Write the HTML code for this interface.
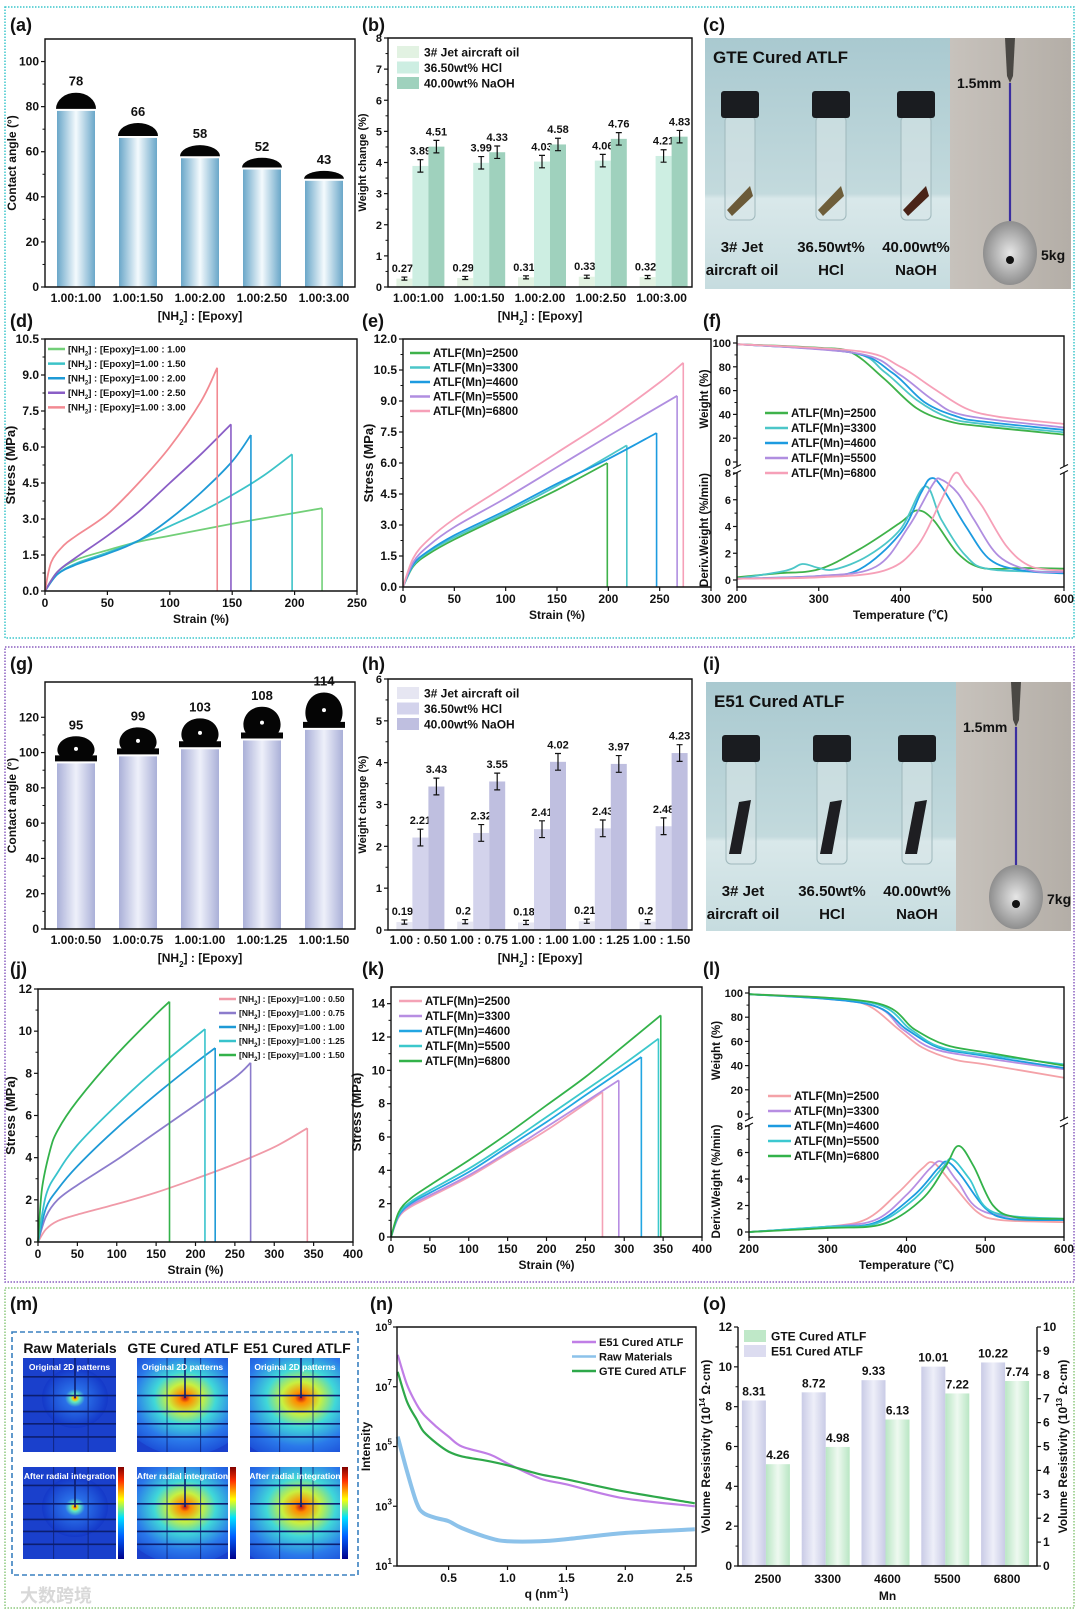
<!DOCTYPE html>
<html><head><meta charset="utf-8"><style>
html,body{margin:0;padding:0;background:#fff}
svg{display:block}
text{font-family:"Liberation Sans","Noto Sans CJK SC",sans-serif;font-weight:bold;fill:#111}
</style></head><body>
<svg id="fig" width="1080" height="1611" viewBox="0 0 1080 1611" xmlns="http://www.w3.org/2000/svg">
<defs id="defs">
<linearGradient id="gBlue" x1="0" x2="1"><stop offset="0" stop-color="#6aa7c9"/><stop offset="0.5" stop-color="#f4fafd"/><stop offset="1" stop-color="#6aa7c9"/></linearGradient>
<linearGradient id="gLav" x1="0" x2="1"><stop offset="0" stop-color="#aab0d8"/><stop offset="0.5" stop-color="#eef0fa"/><stop offset="1" stop-color="#aab0d8"/></linearGradient>
<linearGradient id="gLav2" x1="0" x2="1"><stop offset="0" stop-color="#c9cbe6"/><stop offset="0.5" stop-color="#eeeff9"/><stop offset="1" stop-color="#c9cbe6"/></linearGradient>
<linearGradient id="gGrn" x1="0" x2="1"><stop offset="0" stop-color="#b9e6c4"/><stop offset="0.5" stop-color="#eef9f0"/><stop offset="1" stop-color="#b9e6c4"/></linearGradient>
<linearGradient id="gPhoto" x1="0" y1="0" x2="0" y2="1"><stop offset="0" stop-color="#a9c9d0"/><stop offset="0.62" stop-color="#c3dadd"/><stop offset="0.64" stop-color="#d9e8ea"/><stop offset="1" stop-color="#c6dcdf"/></linearGradient>
<linearGradient id="gGrey" x1="0" x2="1"><stop offset="0" stop-color="#c7c2bc"/><stop offset="1" stop-color="#b4aea7"/></linearGradient>
<radialGradient id="gCyl"><stop offset="0" stop-color="#e6e6e6"/><stop offset="1" stop-color="#8e8e8e"/></radialGradient>
<radialGradient id="hmS"><stop offset="0" stop-color="#c0101a"/><stop offset="0.06" stop-color="#ffd000"/><stop offset="0.14" stop-color="#60e8c0"/><stop offset="0.3" stop-color="#2a70e8"/><stop offset="1" stop-color="#1438c8"/></radialGradient>
<radialGradient id="hmL"><stop offset="0" stop-color="#c0101a"/><stop offset="0.08" stop-color="#ff8a00"/><stop offset="0.25" stop-color="#c8f040"/><stop offset="0.45" stop-color="#40d8d8"/><stop offset="0.75" stop-color="#2a78ea"/><stop offset="1" stop-color="#1c50d8"/></radialGradient>
<linearGradient id="cbar" x1="0" y1="1" x2="0" y2="0"><stop offset="0" stop-color="#00008a"/><stop offset="0.25" stop-color="#0060ff"/><stop offset="0.45" stop-color="#00e0ff"/><stop offset="0.65" stop-color="#ffff00"/><stop offset="0.85" stop-color="#ff3000"/><stop offset="1" stop-color="#800000"/></linearGradient>
</defs>
</svg>
<script>
// ---------- DATA ----------
const aCats=["1.00:1.00","1.00:1.50","1.00:2.00","1.00:2.50","1.00:3.00"];
const aAngle=[78,66,58,52,43];
const aBarTop=[79,67,58,53,48];
const bCats=["1.00:1.00","1.00:1.50","1.00:2.00","1.00:2.50","1.00:3.00"];
const bOil=[0.27,0.29,0.31,0.33,0.32];
const bHCl=[3.89,3.99,4.03,4.06,4.21];
const bNaOH=[4.51,4.33,4.58,4.76,4.83];
const gCats=["1.00:0.50","1.00:0.75","1.00:1.00","1.00:1.25","1.00:1.50"];
const gAngle=[95,99,103,108,114];
const hCats=["1.00 : 0.50","1.00 : 0.75","1.00 : 1.00","1.00 : 1.25","1.00 : 1.50"];
const hOil=[0.19,0.2,0.18,0.21,0.2];
const hHCl=[2.21,2.32,2.41,2.43,2.48];
const hNaOH=[3.43,3.55,4.02,3.97,4.23];
const dC1=[[0,0],[10,0.8],[25,1.3],[50,1.7],[75,2.05],[100,2.3],[150,2.8],[200,3.25],[222,3.45]];
const dC2=[[0,0],[10,0.7],[25,1.15],[50,1.6],[75,2.1],[100,2.7],[125,3.3],[150,4.0],[175,4.8],[198,5.7]];
const dC3=[[0,0],[10,0.7],[25,1.1],[50,1.55],[75,2.1],[100,3.0],[125,4.1],[150,5.4],[165,6.5]];
const dC4=[[0,0],[10,0.8],[25,1.4],[50,2.3],[75,3.3],[100,4.5],[125,5.7],[149,6.95]];
const dC5=[[0,0],[5,1.2],[15,1.9],[25,2.3],[50,3.2],[75,4.5],[100,6.0],[125,7.9],[138,9.3]];
const eC1=[[0,0],[10,1.0],[25,1.6],[50,2.3],[100,3.5],[150,4.7],[199,6.0]];
const eC2=[[0,0],[10,1.05],[25,1.7],[50,2.4],[100,3.6],[150,4.9],[218,6.85]];
const eC3=[[0,0],[10,1.1],[25,1.75],[50,2.5],[100,3.7],[150,5.0],[200,6.2],[247,7.45]];
const eC4=[[0,0],[10,1.2],[25,2.0],[50,2.9],[100,4.3],[150,5.8],[200,7.3],[267,9.25]];
const eC5=[[0,0],[10,1.4],[25,2.3],[50,3.3],[100,4.9],[150,6.5],[200,8.1],[250,9.9],[273,10.85]];
const fW1=[[200,99],[300,96],[340,92],[380,70],[420,45],[460,34],[500,30],[600,23]];
const fW2=[[200,99],[340,92],[380,76],[420,52],[460,37],[500,32],[600,25]];
const fW3=[[200,99],[340,92],[390,75],[430,50],[470,38],[500,34],[600,27]];
const fW4=[[200,99],[350,91],[400,73],[440,52],[480,39],[600,29]];
const fW5=[[200,99],[350,93],[400,80],[440,62],[480,45],[520,38],[600,32]];
const fD1=[[200,0.2],[250,0.5],[300,0.8],[350,2.3],[400,4.3],[420,5.2],[440,4.5],[470,2],[500,0.9],[550,0.9],[600,0.85]];
const fD2=[[200,0.1],[260,0.7],[280,1.2],[300,0.9],[320,0.8],[360,1.8],[400,3.8],[430,7.0],[450,4.5],[480,1.8],[510,0.8],[600,0.6]];
const fD3=[[200,0.1],[300,0.3],[350,0.8],[400,3.5],[425,6.5],[437,7.6],[450,7.0],[480,4.0],[510,1.5],[550,0.7],[600,0.5]];
const fD4=[[200,0.1],[300,0.3],[370,1.0],[410,4],[440,7.2],[450,7.5],[470,6.5],[490,4.5],[520,1.8],[560,0.7],[600,0.6]];
const fD5=[[200,0.1],[300,0.2],[380,0.7],[420,2.5],[450,6],[467,8.0],[480,7.1],[500,5.5],[530,2.5],[560,1.0],[600,0.7]];
const jC1=[[0,0],[10,0.6],[25,1.0],[50,1.3],[100,1.8],[150,2.35],[200,3.0],[250,3.7],[300,4.5],[342,5.4]];
const jC2=[[0,0],[10,1.2],[25,2.0],[50,2.7],[100,3.9],[150,5.2],[200,6.5],[250,7.8],[270,8.5]];
const jC3=[[0,0],[10,1.6],[25,2.5],[50,3.6],[100,5.4],[150,7.0],[200,8.5],[225,9.2]];
const jC4=[[0,0],[10,2.2],[25,3.3],[50,4.6],[100,6.5],[150,8.2],[212,10.1]];
const jC5=[[0,0],[5,2.5],[15,4.3],[25,5.3],[50,6.7],[100,8.9],[150,10.8],[167,11.4]];
const kC1=[[0,0],[10,1.2],[25,1.8],[50,2.4],[100,3.6],[150,5.0],[200,6.4],[272,8.7]];
const kC2=[[0,0],[10,1.25],[25,1.9],[50,2.5],[100,3.7],[150,5.1],[200,6.6],[293,9.4]];
const kC3=[[0,0],[10,1.3],[25,2.0],[50,2.65],[100,3.9],[150,5.4],[200,6.9],[250,8.5],[322,10.8]];
const kC4=[[0,0],[10,1.4],[25,2.1],[50,2.8],[100,4.1],[150,5.6],[200,7.2],[250,8.8],[300,10.4],[344,11.9]];
const kC5=[[0,0],[10,1.5],[25,2.3],[50,3.1],[100,4.6],[150,6.2],[200,7.9],[250,9.6],[300,11.5],[347,13.3]];
const lW1=[[200,99],[300,96],[350,90],[390,70],[420,55],[460,45],[500,41],[600,30]];
const lW2=[[200,99],[350,91],[395,70],[430,55],[480,48],[600,37]];
const lW3=[[200,99],[350,91],[400,70],[440,55],[490,49],[600,38]];
const lW4=[[200,99],[355,92],[405,70],[440,56],[490,50],[600,41]];
const lW5=[[200,99],[360,92],[410,70],[450,57],[500,51],[600,40]];
const lD1=[[200,0],[300,0.4],[350,1.0],[390,3.0],[420,4.8],[435,5.2],[460,3.5],[490,1.5],[520,0.9],[600,0.75]];
const lD2=[[200,0],[300,0.4],[360,0.9],[400,2.8],[430,4.8],[445,5.3],[465,3.8],[500,1.5],[600,0.9]];
const lD3=[[200,0],[300,0.4],[360,0.7],[410,2.8],[440,4.8],[452,5.3],[470,4.2],[500,1.8],[530,1.0],[600,0.9]];
const lD4=[[200,0],[300,0.4],[360,0.6],[410,2.5],[445,4.8],[458,5.5],[480,4.0],[510,1.5],[600,1.0]];
const lD5=[[200,0],[300,0.3],[370,0.6],[420,2.5],[450,5],[466,6.5],[485,5.0],[510,2.0],[540,1.1],[600,1.0]];
const nQ=[0.068,0.147,0.23,0.288,0.4,0.5,0.613,0.853,1.0,1.277,1.503,1.983,2.59];
const nE51=[8.07,7.07,6.4,6.07,5.65,5.33,5.0,4.73,4.43,3.93,3.73,3.27,3.0];
const nGTE=[7.5,6.5,5.9,5.5,5.1,4.83,4.67,4.5,4.37,4.07,3.9,3.5,3.1];
const nRaw=[5.33,4.17,3.1,2.77,2.6,2.5,2.27,1.93,1.83,1.83,1.9,2.1,2.23];
const oCats=["2500","3300","4600","5500","6800"];
const oE51=[8.31,8.72,9.33,10.01,10.22];
const oGTE=[4.26,4.98,6.13,7.22,7.74];

// ---------- HELPERS ----------
const NS='http://www.w3.org/2000/svg';
const svg=document.getElementById('fig');
const defs=document.getElementById('defs');
function mk(tag,p,attrs){const e=document.createElementNS(NS,tag);for(const k in attrs)e.setAttribute(k,attrs[k]);(p||svg).appendChild(e);return e;}
function T(p,x,y,s,size,anchor,extra){const e=mk('text',p,Object.assign({x:x,y:y,'font-size':size||12,'text-anchor':anchor||'middle'},extra||{}));e.innerHTML=s;return e;}
function lin(d0,d1,r0,r1){return v=>r0+(v-d0)/(d1-d0)*(r1-r0);}
function smooth(pts){let d='M'+pts[0][0].toFixed(1)+','+pts[0][1].toFixed(1);for(let i=0;i<pts.length-1;i++){const p0=pts[i-1]||pts[i],p1=pts[i],p2=pts[i+1],p3=pts[i+2]||p2;const c1x=p1[0]+(p2[0]-p0[0])/6,c1y=p1[1]+(p2[1]-p0[1])/6,c2x=p2[0]-(p3[0]-p1[0])/6,c2y=p2[1]-(p3[1]-p1[1])/6;d+=`C${c1x.toFixed(1)},${c1y.toFixed(1)} ${c2x.toFixed(1)},${c2y.toFixed(1)} ${p2[0].toFixed(1)},${p2[1].toFixed(1)}`;}return d;}
function group(name){const g=mk('g',svg,{});return g;}
function frame(g,x0,y0,x1,y1,noTop){
  const r=mk('path',g,{d:noTop?`M${x0},${y0}V${y1}H${x1}V${y0}`:`M${x0},${y0}V${y1}H${x1}V${y0}Z`,fill:'none',stroke:'#111','stroke-width':1.4});
  
  
}
function yTicks(g,x,sy,vals,fmt,side,minor,fs){
  const dir=side==='right'?1:-1;
  vals.forEach(v=>{
    const y=sy(v);
    const t=mk('line',g,{x1:x,x2:x+dir*4,y1:y,y2:y,stroke:'#111','stroke-width':1.2});
    
    
    const l=T(g,x+dir*6,y+4,fmt(v),fs||12,side==='right'?'start':'end');
    
    
  });
  if(minor){for(let i=0;i<vals.length-1;i++){const y=sy((vals[i]+vals[i+1])/2);const m=mk('line',g,{x1:x,x2:x+dir*2.5,y1:y,y2:y,stroke:'#111','stroke-width':1});}}
}
function xTicks(g,y,sx,vals,fmt,labelY){
  vals.forEach(v=>{
    const x=sx(v);
    const t=mk('line',g,{x1:x,x2:x,y1:y,y2:y+4,stroke:'#111','stroke-width':1.2});
    
    
    const l=T(g,x,labelY,fmt(v),12,'middle');
    
    
  });
}
function yTitle(g,x,y,s,size){const t=T(g,x,y,s,size||12,'middle',{transform:`rotate(-90 ${x} ${y})`});return t;}
function xTitle(g,x,y,s){const t=T(g,x,y,s,12,'middle');return t;}
function plabel(x,y,s){const t=T(svg,x,y,s,18,'start',{'font-weight':'normal'});}
function steps(a,b,s){const r=[];for(let v=a;v<=b+1e-9;v+=s)r.push(+v.toFixed(3));return r;}
function curves(g,list,colors,names,sx,sy,drop,w){
  list.forEach((c,i)=>{
    const pts=c.map(p=>[sx(p[0]),sy(p[1])]);
    const p=mk('path',g,{d:smooth(pts),fill:'none',stroke:colors[i],'stroke-width':w||1.8});
    
    
    if(drop){const last=c[c.length-1];const l=mk('line',g,{x1:sx(last[0]),x2:sx(last[0]),y1:sy(last[1]),y2:sy(0),stroke:colors[i],'stroke-width':1.6});
      
      }
  });
}
function legendLines(g,x,y0,dy,colors,labels,size,lw){
  labels.forEach((s,i)=>{
    const y=y0+i*dy;
    const l=mk('line',g,{x1:x,x2:x+lw,y1:y,y2:y,stroke:colors[i],'stroke-width':2.5});
    
    
    const t=T(g,x+lw+3,y+size*0.35,s,size,'start');
    
    
  });
}
function legendBoxes(g,x,y0,dy,fills,labels){
  labels.forEach((s,i)=>{
    const y=y0+i*dy;
    const r=mk('rect',g,{x:x,y:y-6,width:22,height:12,fill:fills[i]});
    
    
    const t=T(g,x+27,y+4.5,s,12,'start');
    
    
  });
}
const NH='[NH<tspan baseline-shift="sub" font-size="8">2</tspan>] : [Epoxy]';

// ---------- BORDERS ----------
(function(){
  const b1=mk('rect',svg,{x:5,y:7,width:1069,height:631,fill:'none',stroke:'#3cc6cc','stroke-width':1.5,'stroke-dasharray':'1.5 1.5'});
  
  
  const b2=mk('rect',svg,{x:5,y:647,width:1069,height:635,fill:'none',stroke:'#8a5fc0','stroke-width':1.5,'stroke-dasharray':'1.5 1.5'});
  
  
  const b3=mk('rect',svg,{x:5,y:1288,width:1069,height:320,fill:'none',stroke:'#8cc87c','stroke-width':1.5,'stroke-dasharray':'1.5 1.5'});
  
  
})();

// ---------- CONTACT ANGLE PANELS ----------
function anglePanel(name,x0,y0,x1,y1,ymax,ystep,cats,vals,tops,fill,big,tickY,titleY){
  const g=group(name);
  const sy=lin(0,ymax,y1,y0);
  const n=cats.length, bw=(x1-x0)/n, w=38;
  cats.forEach((c,i)=>{
    const cx=x0+bw*(i+0.5);
    const top=sy(tops[i]);
    const r=mk('rect',g,{x:cx-w/2,y:top+2,width:w,height:y1-top-2,fill:fill});
    
    
    const rad=w/2+1;
    const th=vals[i]*Math.PI/180;
    let h,pathD;
    if(!big){h=rad*Math.tan(th/2);pathD=`M${cx-rad},${top}A${rad},${h} 0 0 1 ${cx+rad},${top}Z`;}
    else{h=rad*Math.tan(th/2)*1.15;const bw2=rad*0.82;pathD=`M${cx-rad-1},${top}V${top-6}H${cx-bw2}C${cx-rad*1.1},${top-h*0.45} ${cx-rad*0.85},${top-h} ${cx},${top-h}C${cx+rad*0.85},${top-h} ${cx+rad*1.1},${top-h*0.45} ${cx+bw2},${top-6}H${cx+rad+1}V${top}Z`;}
    const d=mk('path',g,{d:pathD,fill:'#050505'});
    
    
    if(big){const dot=mk('circle',g,{cx:cx,cy:top-h*0.5,r:2,fill:'#fff'});}
    const l=T(g,cx,top-h-7,String(vals[i]),13,'middle');
    
    
    const xl=T(g,cx,tickY,c,12,'middle');
    
    
  });
  frame(g,x0,y0,x1,y1);
  yTicks(g,x0,sy,steps(0,ymax-1e-6,ystep),v=>String(v),'left',true);
  yTitle(g,16,(y0+y1)/2,'Contact angle (°)');
  xTitle(g,(x0+x1)/2,titleY,NH);
}
anglePanel('panel-a-contact-angle',45,39,355,287,110,20,aCats,aAngle,aBarTop,'url(#gBlue)',false,302,320);
anglePanel('panel-g-contact-angle',45,682,355,929,140,20,gCats,gAngle,gAngle,'url(#gLav)',true,944,962);

// ---------- WEIGHT CHANGE PANELS ----------
function weightPanel(name,x0,y0,x1,y1,ymax,cats,oil,hcl,naoh,fills,tickY,titleY){
  const g=group(name);
  const sy=lin(0,ymax,y1,y0);
  const bw=(x1-x0)/cats.length, w=16;
  const sets=[oil,hcl,naoh], nm=['oil','hcl','naoh'];
  cats.forEach((c,i)=>{
    const cx=x0+bw*(i+0.5);
    sets.forEach((s,k)=>{
      const bx=cx+(k-1.5)*w+2;
      const r=mk('rect',g,{x:bx,y:sy(s[i]),width:w,height:y1-sy(s[i]),fill:fills[k]});
      
      
      const e=k===0?0.05:0.2;
      const mx=bx+w/2;
      const eb=mk('path',g,{d:`M${mx},${sy(s[i]+e)}V${sy(Math.max(0,s[i]-e))}M${mx-3},${sy(s[i]+e)}H${mx+3}M${mx-3},${sy(Math.max(0,s[i]-e))}H${mx+3}`,stroke:'#111','stroke-width':1.2,fill:'none'});
      
      
      const l=T(g,mx-(k===0?2:0),sy(s[i]+e)-5,String(s[i]),11,'middle');
      
      
    });
    const xl=T(g,cx,tickY,c,12,'middle');
    
    
  });
  frame(g,x0,y0,x1,y1);
  yTicks(g,x0,sy,steps(0,ymax,1),v=>String(v),'left',true,11);
  yTitle(g,x0-22,(y0+y1)/2,'Weight change (%)',11);
  xTitle(g,(x0+x1)/2,titleY,NH);
  legendBoxes(g,x0+9,y0+14,15.5,fills,['3# Jet aircraft oil','36.50wt% HCl','40.00wt% NaOH']);
}
weightPanel('panel-b-weight-change',388,38,692,287,8,bCats,bOil,bHCl,bNaOH,['#e2f2e2','#cdeee2','#9fd1bd'],302,320);
weightPanel('panel-h-weight-change',388,679,692,930,6,hCats,hOil,hHCl,hNaOH,['#e6e6f2','#d3d3ec','#bfbfe0'],944,962);

// ---------- PHOTO PANELS ----------
function photoPanel(name,x0,y0,x1,y1,greyX,title,sampleColor,kg,tall){
  const g=group(name);
  const bg=mk('rect',g,{x:x0,y:y0,width:greyX-x0,height:y1-y0,fill:'url(#gPhoto)'});
  
  
  const t=T(g,x0+8,y0+25,title,17,'start');
  
  
  const cxs=[x0+35,x0+126,x0+211];
  const labs=[['3# Jet','aircraft oil'],['36.50wt%','HCl'],['40.00wt%','NaOH']];
  cxs.forEach((cx,i)=>{
    const v=mk('rect',g,{x:cx-15,y:y0+78,width:30,height:104,rx:5,fill:'#d8e6e8','fill-opacity':0.55,stroke:'#9fb8bc','stroke-width':1});
    
    
    const cap=mk('rect',g,{x:cx-19,y:y0+53,width:38,height:27,rx:3,fill:'#1a1c20'});
    
    
    const sd=tall?`M${cx-12},${y0+172}L${cx-2},${y0+120}L${cx+10},${y0+118}L${cx},${y0+172}Z`:`M${cx-13},${y0+172}L${cx+10},${y0+148}L${cx+13},${y0+158}L${cx-8},${y0+178}Z`;
    const s=mk('path',g,{d:sd,fill:sampleColor[i]});
    
    
    labs[i].forEach((ln,k)=>{const tl=T(g,cx+(i===0?2:0),y0+214+k*23,ln,15,'middle');});
  });
  const gr=mk('rect',g,{x:greyX,y:y0,width:x1-greyX,height:y1-y0,fill:'url(#gGrey)'});
  
  
  const sx=greyX+60;
  const hook=mk('path',g,{d:`M${sx-5},${y0}L${sx+5},${y0}L${sx+3},${y0+38}L${sx},${y0+45}L${sx-3},${y0+38}Z`,fill:'#4a4844'});
  
  
  const st=mk('line',g,{x1:sx,x2:sx,y1:y0+45,y2:y0+222,stroke:'#3b2fa0','stroke-width':2.2});
  
  
  const cy=mk('ellipse',g,{cx:sx,cy:y0+215,rx:27,ry:32,fill:'url(#gCyl)'});
  
  
  const dot=mk('circle',g,{cx:sx,cy:y0+222,r:4,fill:'#111'});
  
  
  const m=T(g,greyX+7,y0+50,'1.5mm',14,'start');
  
  
  const k=T(g,sx+31,y0+222,kg,14,'start');
  
  
}
photoPanel('panel-c-photo',705,38,1071,289,950,'GTE Cured ATLF',['#6b5a38','#6e5e3a','#4a2418'],'5kg',false);
photoPanel('panel-i-photo',706,682,1071,931,956,'E51 Cured ATLF',['#1e1e22','#1e1e22','#1e1e22'],'7kg',true);

// ---------- STRESS-STRAIN PANELS ----------
function ssPanel(name,x0,y0,x1,y1,xmax,xstep,ymax,ystep,yfmt,list,colors,names,labels,leg,legSize,legLw){
  const g=group(name);
  const sx=lin(0,xmax,x0,x1), sy=lin(0,ymax,y1,y0);
  curves(g,list,colors,names,sx,sy,true,1.8);
  frame(g,x0,y0,x1,y1);
  yTicks(g,x0,sy,steps(0,ymax,ystep),yfmt,'left',true);
  xTicks(g,y1,sx,steps(0,xmax,xstep),v=>String(v),y1+16);
  yTitle(g,Math.max(x0-30,15),(y0+y1)/2,'Stress (MPa)',13);
  xTitle(g,(x0+x1)/2,y1+32,'Strain (%)');
  legendLines(g,leg[0],leg[1],leg[2],colors,labels,legSize,legLw);
}
const nhLab=s=>'[NH<tspan baseline-shift="sub" font-size="6">2</tspan>] : [Epoxy]=1.00 : '+s;
const mnLab=['ATLF(Mn)=2500','ATLF(Mn)=3300','ATLF(Mn)=4600','ATLF(Mn)=5500','ATLF(Mn)=6800'];
ssPanel('panel-d-stress-strain',45,339,357,591,250,50,10.5,1.5,v=>v.toFixed(1),[dC1,dC2,dC3,dC4,dC5],['#72cf78','#3cc3c8','#1e9ad6','#8a5ec6','#f28a92'],['1.00','1.50','2.00','2.50','3.00'],['1.00','1.50','2.00','2.50','3.00'].map(nhLab),[48,349,14.6],9.5,17);
ssPanel('panel-e-stress-strain',403,339,711,587,300,50,12,1.5,v=>v.toFixed(1),[eC1,eC2,eC3,eC4,eC5],['#3fb24a','#4cc6c8','#1d9be0','#b08ee0','#f6a0b8'],mnLab,mnLab,[410,353,14.5],11.5,20);
ssPanel('panel-j-stress-strain',38,989,353,1242,400,50,12,2,v=>String(v),[jC1,jC2,jC3,jC4,jC5],['#f09aa8','#8c7ccc','#1e9ad6','#38c3cc','#33b24a'],['0.50','0.75','1.00','1.25','1.50'],['0.50','0.75','1.00','1.25','1.50'].map(nhLab),[219,999,14],8.5,17);
ssPanel('panel-k-stress-strain',391,987,702,1237,400,50,15,2,v=>String(v),[kC1,kC2,kC3,kC4,kC5],['#f4a2b6','#b78ee2','#22a6e2','#3cc8cc','#33b24a'],mnLab,mnLab,[399,1001,15],11.5,23);

// ---------- TGA PANELS ----------
function tgaPanel(name,x0,y0,x1,y1,w100,w0,d8,d0,wList,dList,colors,leg){
  const g=group(name);
  const sx=lin(200,600,x0,x1), syW=lin(0,100,w0,w100), syD=lin(0,8,d0,d8);
  curves(g,wList,colors,mnLab.map(s=>'weight-'+s),sx,syW,false,1.8);
  curves(g,dList,colors,mnLab.map(s=>'deriv-'+s),sx,syD,false,1.8);
  frame(g,x0,y0,x1,y1);
  const brk=(w0+d8)/2+2;
  const gap=mk('rect',g,{x:x0-3,y:brk-3,width:6,height:6,fill:'#fff'});
  
  
  const gap2=mk('rect',g,{x:x1-3,y:brk-3,width:6,height:6,fill:'#fff'});
  
  
  [x0,x1].forEach(x=>{const s=mk('path',g,{d:`M${x-4},${brk-1}L${x+4},${brk-5}M${x-4},${brk+5}L${x+4},${brk+1}`,stroke:'#111','stroke-width':1.2});});
  yTicks(g,x0,syW,[0,20,40,60,80,100],v=>String(v),'left',true,11);
  yTicks(g,x0,syD,[0,2,4,6,8],v=>String(v),'left',true,11);
  xTicks(g,y1,sx,[200,300,400,500,600],v=>String(v),y1+16);
  yTitle(g,x0-29,(y0+w0)/2,'Weight (%)',11.5);
  yTitle(g,x0-29,(d8+y1)/2,'Deriv.Weight (%/min)',11.5);
  xTitle(g,(x0+x1)/2,y1+32,'Temperature (℃)');
  legendLines(g,leg[0],leg[1],15,colors,mnLab,11.5,23);
}
tgaPanel('panel-f-tga',737,336,1064,587,343,462,473,580,[fW1,fW2,fW3,fW4,fW5],[fD1,fD2,fD3,fD4,fD5],['#3fb24a','#4cc6c8','#1d9be0','#b08ee0','#f6a0b8'],[765,413]);
tgaPanel('panel-l-tga',749,987,1064,1237,993,1114,1126,1232,[lW1,lW2,lW3,lW4,lW5],[lD1,lD2,lD3,lD4,lD5],['#f4a2a8','#b78ee2','#1d9be0','#3cc8d0','#33b24a'],[768,1096]);

// ---------- PANEL M (SAXS 2D) ----------
(function(){
  const g=group('panel-m-saxs-patterns');
  const box=mk('rect',g,{x:12,y:1332,width:346,height:243,fill:'none',stroke:'#3a80c0','stroke-width':1.6,'stroke-dasharray':'5 3'});
  
  
  const heads=[['Raw Materials',70],['GTE Cured ATLF',183],['E51 Cured ATLF',297]];
  heads.forEach(h=>{const t=T(g,h[1],1353,h[0],14,'middle');});
  const cols=[[23,116,75,'hmS',0.9],[137,228,185,'hmL',1.2],[250,340,301,'hmL',1.35]];
  const rows=[[1358,1452,1398,'Original 2D patterns'],[1467,1559,1507,'After radial integration']];
  let id=0;
  rows.forEach((r,ri)=>cols.forEach((c,ci)=>{
    const w=c[1]-c[0],h=r[1]-r[0];
    const cp=mk('clipPath',defs,{id:'clipM'+id});
    mk('rect',cp,{x:c[0],y:r[0],width:w,height:h});
    const ig=mk('g',g,{'clip-path':`url(#clipM${id})`});
    id++;
    
    
    const bg=mk('rect',ig,{x:c[0],y:r[0],width:w,height:h,fill:'#1a40cc'});
    
    
    const rr=c[3]==='hmS'?30:60*c[4];
    const el=mk('ellipse',ig,{cx:c[2],cy:r[2],rx:c[3]==='hmS'?rr*1.1:rr*0.95,ry:rr*(c[3]==='hmS'?1:0.8),fill:`url(#${c[3]})`});
    
    
    [0.2,0.4,0.57,0.7,0.84].forEach(f=>{const l=mk('line',ig,{x1:c[0],x2:c[1],y1:r[0]+h*f,y2:r[0]+h*f,stroke:'#0c1e70','stroke-width':1.6});});
    [0.33,0.7].forEach(f=>{const l=mk('line',ig,{x1:c[0]+w*f,x2:c[0]+w*f,y1:r[0],y2:r[1],stroke:'#0c1e70','stroke-width':0.8});});
    const bs=mk('line',ig,{x1:c[2],x2:c[2],y1:r[0],y2:r[2],stroke:'#0c1e70','stroke-width':1.6});
    
    
    const t=T(ig,(c[0]+c[1])/2,r[0]+12,r[3],8.5,'middle',{style:'fill:#fff'});
    
    
    if(ri===1){const cb=mk('rect',g,{x:c[1]+2,y:r[0],width:6,height:h,fill:'url(#cbar)'});}
  }));
  const wm=T(svg,20,1602,'大数跨境',18,'start',{style:'fill:#d8d8d8','font-family':'"Noto Sans CJK SC",sans-serif'});
  
  
})();

// ---------- PANEL N (SAXS 1D) ----------
(function(){
  const g=group('panel-n-saxs-curves');
  const x0=397,x1=696,y0=1327,y1=1566;
  const sx=lin(0.062,2.6,x0,x1), sy=lin(1,9,y1,y0);
  const series=[[nRaw,'#8cc2ea','raw-materials'],[nE51,'#c07ee6','e51-cured'],[nGTE,'#2ea84a','gte-cured']];
  series.forEach(s=>{
    const pts=nQ.map((q,i)=>[sx(q),sy(s[0][i])]);
    const p=mk('path',g,{d:smooth(pts),fill:'none',stroke:s[1],'stroke-width':s[2]==='raw-materials'?4:2.2});
    
    
  });
  frame(g,x0,y0,x1,y1);
  [1,3,5,7,9].forEach(e=>{const y=sy(e);const t=mk('line',g,{x1:x0,x2:x0-4,y1:y,y2:y,stroke:'#111','stroke-width':1.2});
    const l=T(g,x0-5,y+4,'10<tspan dy="-6" font-size="8">'+e+'</tspan>',11,'end');});
  xTicks(g,y1,sx,[0.5,1.0,1.5,2.0,2.5],v=>v.toFixed(1),y1+16);
  yTitle(g,x0-27,(y0+y1)/2,'Intensity',12);
  xTitle(g,(x0+x1)/2,y1+32,'q (nm<tspan dy="-5" font-size="8">-1</tspan><tspan dy="5">)</tspan>');
  legendLines(g,572,1342,14.5,['#c07ee6','#8cc2ea','#2ea84a'],['E51 Cured ATLF','Raw Materials','GTE Cured ATLF'],11,24);
})();

// ---------- PANEL O (RESISTIVITY) ----------
(function(){
  const g=group('panel-o-resistivity');
  const x0=738,x1=1037,y0=1327,y1=1566;
  const syL=lin(0,12,y1,y0), syR=lin(0,10,y1,y0);
  const bw=(x1-x0)/oCats.length, w=24;
  oCats.forEach((c,i)=>{
    const cx=x0+bw*(i+0.5);
    const r1=mk('rect',g,{x:cx-w-2,y:syL(oE51[i]),width:w,height:y1-syL(oE51[i]),fill:'url(#gLav2)'});
    
    
    const r2=mk('rect',g,{x:cx-2,y:syR(oGTE[i]),width:w,height:y1-syR(oGTE[i]),fill:'url(#gGrn)'});
    
    
    const l1=T(g,cx-w/2-2,syL(oE51[i])-5,oE51[i].toFixed(2),12,'middle');
    
    
    const l2=T(g,cx+w/2-2,syR(oGTE[i])-5,oGTE[i].toFixed(2),12,'middle');
    
    
    const xl=T(g,cx,y1+17,c,12,'middle');
    
    
  });
  frame(g,x0,y0,x1,y1,true);
  yTicks(g,x0,syL,[0,2,4,6,8,10,12],v=>String(v),'left',true);
  yTicks(g,x1,syR,[0,1,2,3,4,5,6,7,8,9,10],v=>String(v),'right',false);
  yTitle(g,x0-28,(y0+y1)/2,'Volume Resistivity (10<tspan dy="-5" font-size="8">14</tspan><tspan dy="5"> Ω·cm)</tspan>',12);
  yTitle(g,x1+30,(y0+y1)/2,'Volume Resistivity (10<tspan dy="-5" font-size="8">13</tspan><tspan dy="5"> Ω·cm)</tspan>',12);
  xTitle(g,(x0+x1)/2,y1+34,'Mn');
  legendBoxes(g,744,1336,15,['#bfe8c8','#dcdcf0'],['GTE Cured ATLF','E51 Cured ATLF']);
})();

// ---------- PANEL LABELS ----------
plabel(10,31,'(a)');plabel(362,31,'(b)');plabel(703,31,'(c)');
plabel(10,327,'(d)');plabel(362,327,'(e)');plabel(703,327,'(f)');
plabel(10,670,'(g)');plabel(362,670,'(h)');plabel(703,670,'(i)');
plabel(10,975,'(j)');plabel(362,975,'(k)');plabel(703,975,'(l)');
plabel(10,1310,'(m)');plabel(370,1310,'(n)');plabel(703,1310,'(o)');
</script>
</body></html>
